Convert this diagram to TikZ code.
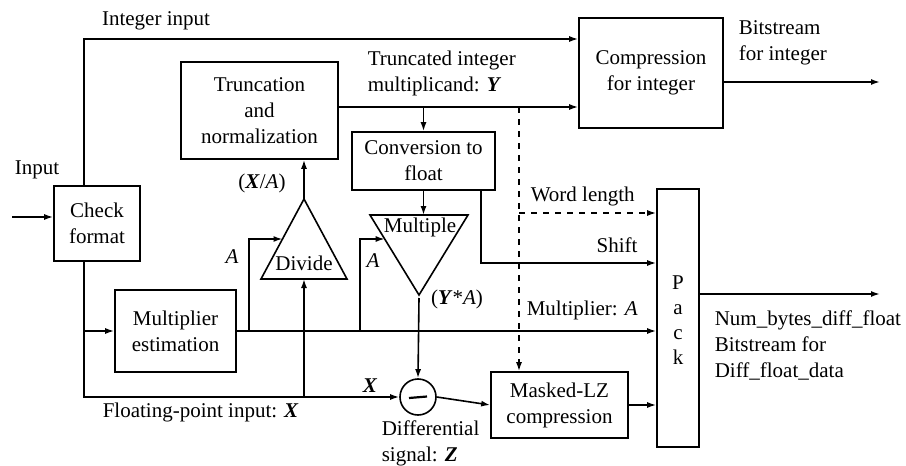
\documentclass[tikz,border=0pt]{standalone}
\usepackage{fontspec}
\setmainfont{Liberation Serif}
\usetikzlibrary{arrows.meta}
\begin{document}
\begin{tikzpicture}[x=0.5pt,y=-0.5pt,
  font=\fontsize{10.5}{13}\selectfont,
  line width=0.8pt,
  blk/.style={draw, align=center, inner sep=0pt},
  lab/.style={inner sep=0pt, align=left},
  arr/.style={-{Latex[length=4.5pt,width=3pt]}},
  ]
\useasboundingbox (0,0) rectangle (906,466);

% ---- blocks ----
\node[blk, minimum width=43pt,   minimum height=37.5pt] (chk)   at (97,223.5)  {Check\\format};
\node[blk, minimum width=78.5pt, minimum height=48.5pt] (trunc) at (259.5,110.5) {Truncation\\and\\normalization};
\node[blk, minimum width=72pt,   minimum height=55pt]   (comp)  at (651,73)    {Compression\\for integer};
\node[blk, minimum width=71.5pt, minimum height=29pt]   (conv)  at (423.5,161) {Conversion to\\float};
\node[blk, minimum width=60.5pt, minimum height=41pt]   (mult)  at (175.5,331) {Multiplier\\estimation};
\node[blk, minimum width=68.5pt, minimum height=33pt]   (mlz)   at (559.5,405) {Masked-LZ\\compression};
\node[blk, minimum width=21pt,   minimum height=129pt]  (pack)  at (678,318)   {};
\node[lab, align=center, font=\fontsize{10.5}{12.5}\selectfont] (packtxt) at (678,320) {P\\a\\c\\k};

% ---- divider and multiplier triangles ----
\coordinate (dL) at (261,279);
\coordinate (dR) at (347,279);
\coordinate (dT) at (304,199);
\draw (dL) -- (dR) -- (dT) -- cycle;
\node[lab] (divtxt) at (304,263) {Divide};
\coordinate (mL) at (370,215);
\coordinate (mR) at (468,215);
\coordinate (mB) at (419,295);
\draw (mL) -- (mR) -- (mB) -- cycle;
\node[lab] (multxt) at (420,227) {Multiple};

% ---- subtractor with its minus bar ----
\node[draw, circle, minimum size=18pt, inner sep=0pt] (sub) at (418,397) {};
\coordinate (mi1) at (409,398);
\coordinate (mi2) at (427,396.5);
\draw[line width=1.1pt] (mi1) -- (mi2);

% ---- junction points ----
\coordinate (in)    at (12,217);
\coordinate (intTop) at (84,39);
\coordinate (yrow)  at (0,107);
\coordinate (dj)    at (519,107);
\coordinate (wl)    at (519,213);
\coordinate (shr)   at (481,263);
\coordinate (aDiv)  at (249,330);
\coordinate (dIn)   at (282.5,239);
\coordinate (aMul)  at (360,330);
\coordinate (mIn)   at (384.7,239);
\coordinate (fpx)   at (304,397);
\coordinate (mOut)  at (419,298);
\coordinate (outI)  at (880,82);
\coordinate (outF)  at (880,294);

% ---- connectors ----
\draw[arr] (in) -- (in -| chk.west);
\draw[arr] (chk.north -| intTop) |- (comp.west |- intTop);
\draw[arr] (trunc.east |- yrow) -- (comp.west |- yrow);
\draw[arr] (conv.north |- yrow) -- (conv.north);
\draw[arr, dashed] (dj) -- (dj |- mlz.north);
\draw[arr, dashed] (wl) -- (pack.west |- wl);
\draw[arr] (conv.south) -- (conv.south |- mL);
\draw[arr] (conv.south -| shr) |- (pack.west |- shr);
\draw[arr] (dT) -- (trunc.south -| dT);
\draw[arr] (mult.east) -- (pack.west |- mult.east);
\draw[arr] (aDiv) |- (dIn);
\draw[arr] (aMul) |- (mIn);
\draw[arr] (chk.south -| intTop) |- (sub.west);
\draw[arr] (mult.west -| intTop) -- (mult.west);
\draw[arr] (fpx) -- (fpx |- dL);
\draw[arr] (mOut) -- (sub.north);
\draw[arr] (sub.east) -- (mlz.west);
\draw[arr] (mlz.east) -- (pack.west |- mlz.east);
\draw[arr] (pack.east |- outF) -- (outF);
\draw[arr] (comp.east |- outI) -- (outI);

% ---- labels ----
\node[lab, anchor=west] at (14,170) {Input};
\node[lab] at (156,21) {Integer input};
\node[lab, anchor=west] at (367,73) {Truncated integer\\multiplicand: \textbf{\textit{Y}}};
\node[lab, anchor=west] at (738,43) {Bitstream\\for integer};
\node[lab, anchor=west] at (530,196) {Word length};
\node[lab] at (617,245) {Shift};
\node[lab, anchor=west] at (526,310) {Multiplier: \textit{A}};
\node[lab] at (262,183) {(\textbf{\textit{X}}/\textit{A})};
\node[lab] at (232,257) {\textit{A}};
\node[lab] at (373,261) {\textit{A}};
\node[lab] at (457,299) {(\textbf{\textit{Y}}*\textit{A})};
\node[lab] at (370,386) {\textbf{\textit{X}}};
\node[lab, anchor=west] at (102,412) {Floating-point input: \textbf{\textit{X}}};
\node[lab, anchor=west] at (381,443) {Differential\\signal: \textbf{\textit{Z}}};
\node[lab, anchor=west] at (714,345) {Num\_bytes\_diff\_float\\Bitstream for\\Diff\_float\_data};
\end{tikzpicture}
\end{document}
